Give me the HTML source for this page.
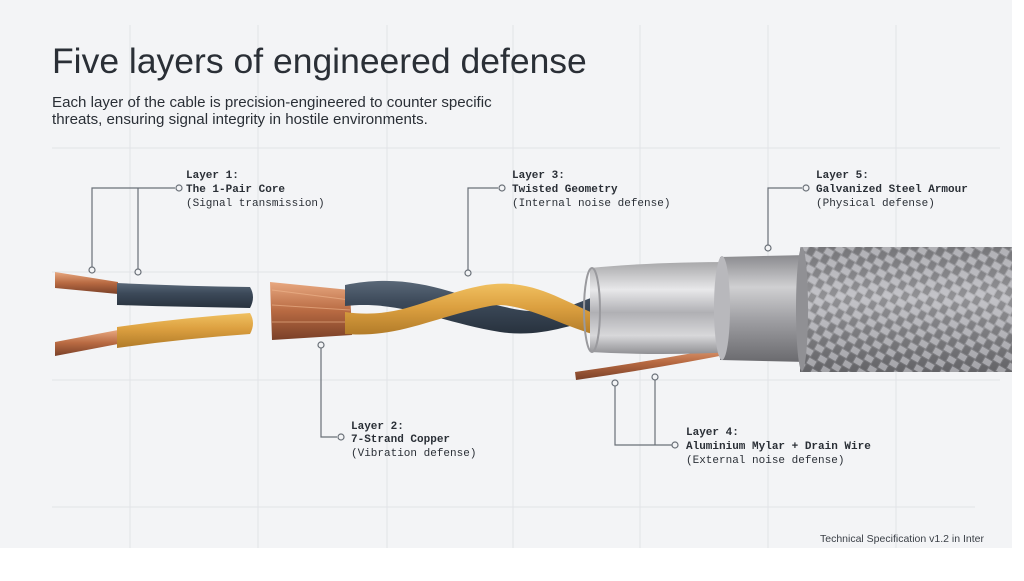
<!DOCTYPE html>
<html><head><meta charset="utf-8"><style>
body{margin:0;width:1024px;height:576px;background:#fff;overflow:hidden;font-family:"Liberation Sans",sans-serif}
</style></head><body>
<svg width="1024" height="576" viewBox="0 0 1024 576" xmlns="http://www.w3.org/2000/svg">
<defs>
<linearGradient id="blue" x1="0" y1="0" x2="0" y2="1"><stop offset="0" stop-color="#5a6878"/><stop offset=".4" stop-color="#3d4a5a"/><stop offset="1" stop-color="#28323e"/></linearGradient>
<linearGradient id="yel" x1="0" y1="0" x2="0" y2="1"><stop offset="0" stop-color="#f0c060"/><stop offset=".45" stop-color="#dca040"/><stop offset="1" stop-color="#b07a28"/></linearGradient>
<linearGradient id="cu" x1="0" y1="0" x2="0" y2="1"><stop offset="0" stop-color="#e8a880"/><stop offset=".5" stop-color="#b86a42"/><stop offset="1" stop-color="#7a4028"/></linearGradient>
<linearGradient id="foil" x1="0" y1="0" x2="0" y2="1"><stop offset="0" stop-color="#a8a8aa"/><stop offset=".3" stop-color="#e8e8ea"/><stop offset=".55" stop-color="#b0b0b4"/><stop offset=".8" stop-color="#d8d8da"/><stop offset="1" stop-color="#909094"/></linearGradient>
<linearGradient id="ring" x1="0" y1="0" x2="0" y2="1"><stop offset="0" stop-color="#8a8a8e"/><stop offset=".3" stop-color="#d0d0d2"/><stop offset=".6" stop-color="#a0a0a4"/><stop offset="1" stop-color="#6a6a6e"/></linearGradient>
<linearGradient id="braid" x1="0" y1="0" x2="0" y2="1"><stop offset="0" stop-color="#8a8a8e"/><stop offset=".4" stop-color="#b4b4b8"/><stop offset="1" stop-color="#6e6e72"/></linearGradient>
<pattern id="weave" width="16" height="16" patternUnits="userSpaceOnUse" patternTransform="rotate(30)">
<rect x="0" y="1" width="8" height="6" fill="#d0d0d4" opacity=".55"/>
<rect x="8" y="9" width="8" height="6" fill="#d0d0d4" opacity=".55"/>
<rect x="9" y="0" width="6" height="8" fill="#505054" opacity=".35"/>
<rect x="1" y="8" width="6" height="8" fill="#505054" opacity=".35"/>
</pattern>
</defs>
<rect x="0" y="0" width="1012" height="548" fill="#f3f4f6"/>
<g stroke="#e1e3e7" stroke-width="1">
<line x1="130" y1="25" x2="130" y2="548"/><line x1="258" y1="25" x2="258" y2="548"/><line x1="387" y1="25" x2="387" y2="548"/><line x1="513" y1="25" x2="513" y2="548"/><line x1="640" y1="25" x2="640" y2="548"/><line x1="768" y1="25" x2="768" y2="548"/><line x1="896" y1="25" x2="896" y2="548"/>
<line x1="52" y1="148" x2="1000" y2="148"/><line x1="52" y1="272" x2="1000" y2="272"/><line x1="52" y1="380" x2="1000" y2="380"/><line x1="52" y1="507" x2="975" y2="507"/>
</g>
<text x="52" y="73" font-size="35.5" fill="#2a2f36">Five layers of engineered defense</text>
<text x="52" y="107" font-size="15.1" fill="#2a2f36">Each layer of the cable is precision-engineered to counter specific</text>
<text x="52" y="124" font-size="15.1" fill="#2a2f36">threats, ensuring signal integrity in hostile environments.</text>

<path d="M55 272 L118 282 L118 294 L55 288 Z" fill="url(#cu)"/>
<path d="M117 283 Q180 286 250 287 Q256 297 250 308 Q180 307 117 305 Z" fill="url(#blue)"/>
<path d="M55 342 L118 330 L118 344 L55 356 Z" fill="url(#cu)"/>
<path d="M117 327 Q180 318 250 313 Q256 323 250 334 Q180 339 117 348 Z" fill="url(#yel)"/>
<path d="M270 282 L350 290 L352 335 L272 340 Z" fill="url(#cu)"/>
<g stroke="#f0b890" stroke-width="1" opacity=".6"><line x1="272" y1="290" x2="350" y2="300"/><line x1="272" y1="305" x2="350" y2="310"/><line x1="272" y1="322" x2="350" y2="322"/></g>
<path d="M345 285 C420 270 460 300 520 310 C560 316 580 300 600 295 L600 318 C570 325 540 338 500 332 C440 322 400 300 345 306 Z" fill="url(#blue)"/>
<path d="M345 312 C400 320 430 296 480 286 C530 276 560 300 600 316 L600 336 C560 326 520 300 490 306 C430 318 400 338 345 334 Z" fill="url(#yel)"/>
<path d="M575 372 Q660 360 740 344 L740 352 Q660 368 576 380 Z" fill="url(#cu)"/>
<path d="M590 268 Q650 262 735 262 L735 352 Q660 356 590 352 Z" fill="url(#foil)"/>
<ellipse cx="592" cy="310" rx="8" ry="42" fill="none" stroke="#9a9a9e" stroke-width="2"/>
<path d="M720 257 L808 255 L808 362 L720 360 Z" fill="url(#ring)"/>
<ellipse cx="722" cy="308" rx="8" ry="52" fill="#b8b8bc"/>
<rect x="800" y="247" width="212" height="125" fill="url(#braid)"/>
<rect x="800" y="247" width="212" height="125" fill="url(#weave)"/>
<ellipse cx="802" cy="309" rx="6" ry="62" fill="#909094"/>

<g stroke="#6a7078" stroke-width="1.2" fill="none">
<polyline points="175,188 92,188 92,267"/><line x1="138" y1="188" x2="138" y2="269"/>
<circle cx="179" cy="188" r="3" fill="#f3f4f6"/><circle cx="92" cy="270" r="3" fill="#f3f4f6"/><circle cx="138" cy="272" r="3" fill="#f3f4f6"/>
<polyline points="321,348 321,437 337,437"/><circle cx="321" cy="345" r="3" fill="#f3f4f6"/><circle cx="341" cy="437" r="3" fill="#f3f4f6"/>
<polyline points="498,188 468,188 468,270"/><circle cx="502" cy="188" r="3" fill="#f3f4f6"/><circle cx="468" cy="273" r="3" fill="#f3f4f6"/>
<polyline points="802,188 768,188 768,245"/><circle cx="806" cy="188" r="3" fill="#f3f4f6"/><circle cx="768" cy="248" r="3" fill="#f3f4f6"/>
<polyline points="615,386 615,445 672,445"/><line x1="655" y1="380" x2="655" y2="445"/><circle cx="615" cy="383" r="3" fill="#f3f4f6"/><circle cx="655" cy="377" r="3" fill="#f3f4f6"/><circle cx="675" cy="445" r="3" fill="#f3f4f6"/>
</g>
<g font-family="Liberation Mono, monospace" font-size="11" fill="#2a2f36">
<text x="186" y="178" font-weight="bold">Layer 1:</text><text x="186" y="192" font-weight="bold">The 1-Pair Core</text><text x="186" y="206">(Signal transmission)</text>
<text x="351" y="429" font-weight="bold">Layer 2:</text><text x="351" y="442" font-weight="bold">7-Strand Copper</text><text x="351" y="456">(Vibration defense)</text>
<text x="512" y="178" font-weight="bold">Layer 3:</text><text x="512" y="192" font-weight="bold">Twisted Geometry</text><text x="512" y="206">(Internal noise defense)</text>
<text x="816" y="178" font-weight="bold">Layer 5:</text><text x="816" y="192" font-weight="bold">Galvanized Steel Armour</text><text x="816" y="206">(Physical defense)</text>
<text x="686" y="435" font-weight="bold">Layer 4:</text><text x="686" y="449" font-weight="bold">Aluminium Mylar + Drain Wire</text><text x="686" y="463">(External noise defense)</text>
</g>
<text x="984" y="542" font-size="10.5" fill="#3a3f46" text-anchor="end">Technical Specification v1.2 in Inter</text>
</svg>
</body></html>
